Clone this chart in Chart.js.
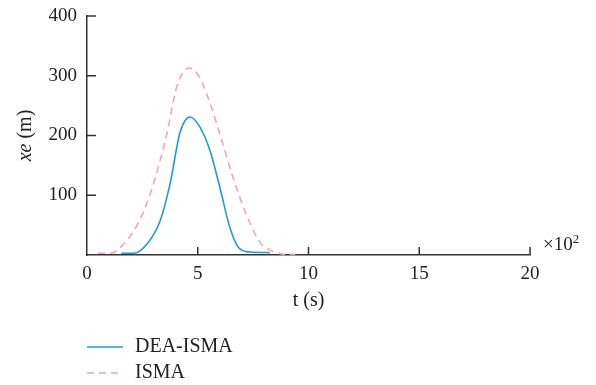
<!DOCTYPE html>
<html>
<head>
<meta charset="utf-8">
<script src="https://cdn.jsdelivr.net/npm/chart.js@4"></script>
<style>
  html, body { margin: 0; padding: 0; background: #fff; }
  #wrap { width: 596px; height: 385px; }
</style>
</head>
<body>
<div id="wrap"><canvas id="xeChart" width="596" height="385"></canvas></div>
<script>
// ===== DATA (t in x10^2 s, xe in m) =====
const deaT = [1.55, 2.1, 2.7, 3.3, 3.75, 4.2, 4.65, 5.1, 5.55, 6.0, 6.45, 6.85, 7.35, 8.25];
const deaXe = [3, 3, 18, 57, 119, 205, 231, 214, 175, 113, 46, 12, 5, 4];
const ismaT = [0.5, 1.05, 1.65, 2.4, 3.0, 3.6, 4.05, 4.6, 4.95, 5.4, 6.0, 6.6, 7.2, 7.8, 8.4, 9.0, 9.4];
const ismaXe = [3, 3, 18, 60, 119, 202, 281, 313, 305, 270, 202, 129, 67, 22, 6, 1, 1];
const xTicks = [0, 5, 10, 15, 20];
const yTicks = [100, 200, 300, 400];

const seriesNames = ["DEA-ISMA", "ISMA"];
const blue = "#1f9ad6";
const pink = "#f5a3b8";
const axisColor = "#333";
const serif = "'Liberation Serif', 'DejaVu Serif', serif";

const toPoints = (ts, vs) => ts.map((t, i) => ({ x: t, y: vs[i] }));

// ===== DECORATIONS: inward ticks, y title, exponent, legend =====
const decor = {
  id: "decor",
  afterDraw(chart) {
    const { ctx, chartArea, scales } = chart;
    const x = scales.x, y = scales.y;
    ctx.save();
    ctx.strokeStyle = axisColor;
    ctx.lineWidth = 1.5;
    ctx.beginPath();
    xTicks.forEach((v) => {
      if (v === 0) return;
      const px = x.getPixelForValue(v);
      ctx.moveTo(px, chartArea.bottom);
      ctx.lineTo(px, chartArea.bottom - 8);
    });
    yTicks.forEach((v) => {
      const py = y.getPixelForValue(v);
      ctx.moveTo(chartArea.left, py);
      ctx.lineTo(chartArea.left + 9, py);
    });
    ctx.stroke();

    // y axis title: italic "xe" + " (m)"
    ctx.fillStyle = "#222";
    ctx.textBaseline = "middle";
    ctx.translate(26, (chartArea.top + chartArea.bottom) / 2);
    ctx.rotate(-Math.PI / 2);
    const fItal = "italic 20px " + serif;
    const fNorm = "20px " + serif;
    ctx.font = fItal;
    const w1 = ctx.measureText("xe").width;
    ctx.font = fNorm;
    const w2 = ctx.measureText(" (m)").width;
    let sx = -(w1 + w2) / 2;
    ctx.textAlign = "left";
    ctx.font = fItal;
    ctx.fillText("xe", sx, 0);
    ctx.font = fNorm;
    ctx.fillText(" (m)", sx + w1, 0);
    ctx.setTransform(1, 0, 0, 1, 0, 0);

    // x10^2 exponent label
    ctx.font = "19px " + serif;
    ctx.textBaseline = "alphabetic";
    ctx.fillText("\u00d710", chartArea.right + 13, chartArea.bottom - 5);
    const wx = ctx.measureText("\u00d710").width;
    ctx.font = "13px " + serif;
    ctx.fillText("2", chartArea.right + 13 + wx, chartArea.bottom - 12);

    // legend
    ctx.font = "20px " + serif;
    ctx.textBaseline = "middle";
    chart.data.datasets.forEach((ds, i) => {
      const ly = 347 + i * 26;
      ctx.strokeStyle = ds.borderColor;
      ctx.lineWidth = ds.borderWidth;
      ctx.setLineDash(ds.borderDash || []);
      ctx.beginPath();
      ctx.moveTo(87, ly);
      ctx.lineTo(123, ly);
      ctx.stroke();
      ctx.setLineDash([]);
      ctx.fillStyle = "#222";
      ctx.fillText(ds.label, 135, ly);
    });
    ctx.restore();
  },
};

new Chart(document.getElementById("xeChart"), {
  type: "line",
  data: {
    datasets: [
      {
        label: seriesNames[0],
        data: toPoints(deaT, deaXe),
        borderColor: blue,
        borderWidth: 1.6,
        pointRadius: 0,
        cubicInterpolationMode: "monotone",
        fill: false,
      },
      {
        label: seriesNames[1],
        data: toPoints(ismaT, ismaXe),
        borderColor: pink,
        borderWidth: 1.6,
        borderDash: [7, 5],
        pointRadius: 0,
        cubicInterpolationMode: "monotone",
        fill: false,
      },
    ],
  },
  options: {
    responsive: false,
    animation: false,
    layout: { padding: { left: 0, top: 16, right: 66, bottom: 68 } },
    plugins: {
      legend: { display: false },
      tooltip: { enabled: false },
    },
    scales: {
      x: {
        type: "linear",
        min: 0,
        max: 20,
        afterFit: (s) => { s.height = 62; s.paddingLeft = 0; s.paddingRight = 0; },
        afterBuildTicks: (s) => { s.ticks = xTicks.map((v) => ({ value: v })); },
        grid: { display: false, drawTicks: false },
        border: { display: true, color: axisColor, width: 1.5 },
        ticks: { padding: 8, color: "#222", font: { family: serif, size: 19 } },
        title: {
          display: true,
          text: "t (s)",
          color: "#222",
          font: { family: serif, size: 20 },
          padding: { top: 4, bottom: 4 },
        },
      },
      y: {
        type: "linear",
        min: 0,
        max: 400,
        afterFit: (s) => { s.width = 87; s.paddingTop = 0; s.paddingBottom = 0; },
        afterBuildTicks: (s) => { s.ticks = yTicks.map((v) => ({ value: v })); },
        grid: { display: false, drawTicks: false },
        border: { display: true, color: axisColor, width: 1.5 },
        ticks: { padding: 10, color: "#222", font: { family: serif, size: 19 } },
      },
    },
  },
  plugins: [decor],
});
</script>
</body>
</html>
